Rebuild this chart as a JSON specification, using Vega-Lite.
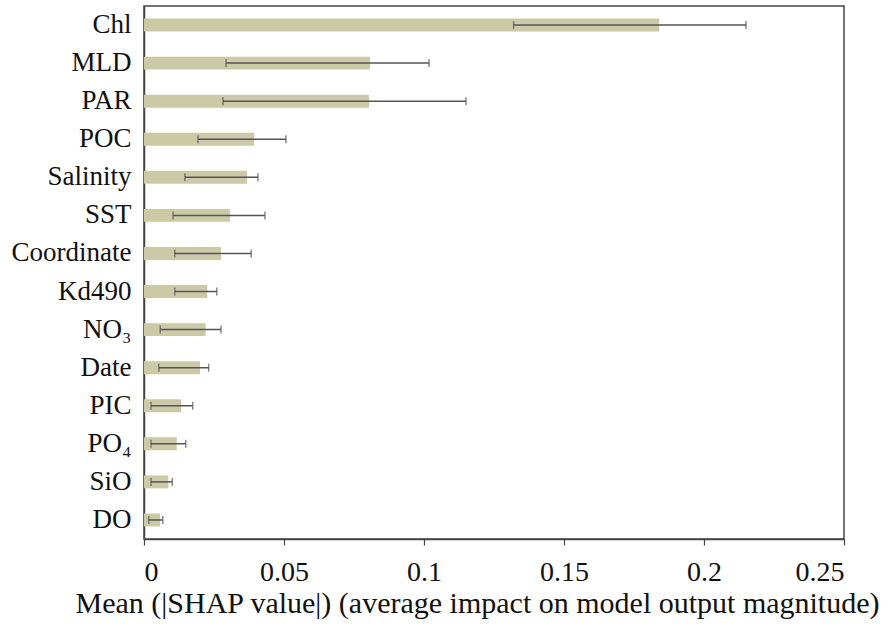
{
  "$schema": "https://vega.github.io/schema/vega-lite/v6.json",
  "width": 700,
  "height": 533,
  "autosize": "none",
  "padding": {"left": 144, "top": 6, "right": 48, "bottom": 87},
  "background": "white",
  "config": {
    "view": {"stroke": "#444", "strokeWidth": 1.5},
    "font": "Liberation Serif",
    "axis": {"labelFont": "Liberation Serif", "titleFont": "Liberation Serif", "domainColor": "#444", "domainWidth": 1.5, "tickColor": "#444", "tickWidth": 1.2, "labelColor": "#111", "titleColor": "#111", "grid": false}
  },
  "data": {
    "values": [
      {"feature": "Chl", "mean": 0.184, "lo": 0.132, "hi": 0.215},
      {"feature": "MLD", "mean": 0.0807, "lo": 0.0293, "hi": 0.1018},
      {"feature": "PAR", "mean": 0.0804, "lo": 0.0282, "hi": 0.115},
      {"feature": "POC", "mean": 0.0393, "lo": 0.0193, "hi": 0.0507},
      {"feature": "Salinity", "mean": 0.0368, "lo": 0.0146, "hi": 0.0407},
      {"feature": "SST", "mean": 0.0307, "lo": 0.0104, "hi": 0.0432},
      {"feature": "Coordinate", "mean": 0.0275, "lo": 0.011, "hi": 0.0383},
      {"feature": "Kd490", "mean": 0.0226, "lo": 0.011, "hi": 0.026},
      {"feature": "NO₃", "mean": 0.022, "lo": 0.0058, "hi": 0.0275},
      {"feature": "Date", "mean": 0.02, "lo": 0.0053, "hi": 0.0231},
      {"feature": "PIC", "mean": 0.0133, "lo": 0.0025, "hi": 0.0174},
      {"feature": "PO₄", "mean": 0.0117, "lo": 0.0025, "hi": 0.0149},
      {"feature": "SiO", "mean": 0.0087, "lo": 0.0025, "hi": 0.0101},
      {"feature": "DO", "mean": 0.0057, "lo": 0.0017, "hi": 0.0067}
    ]
  },
  "encoding": {
    "y": {
      "field": "feature", "type": "nominal", "sort": null,
      "scale": {"paddingInner": 0.66, "paddingOuter": 0.33},
      "axis": {"title": null, "ticks": false, "labelFontSize": 27, "labelPadding": 13, "labelColor": "#111"}
    }
  },
  "layer": [
    {
      "mark": {"type": "bar", "color": "#cbc9a6"},
      "encoding": {
        "x": {
          "field": "mean", "type": "quantitative",
          "scale": {"domain": [0, 0.25], "nice": false},
          "axis": {"values": [0, 0.05, 0.1, 0.15, 0.2, 0.25], "format": "~g", "labelFontSize": 28, "labelPadding": 13, "tickSize": 6, "title": "Mean (|SHAP value|) (average impact on model output magnitude)", "titleFontSize": 30, "titleFontWeight": "normal", "titlePadding": 2, "titleAnchor": "middle", "titleX": 333}
        }
      }
    },
    {
      "mark": {"type": "rule", "color": "#555", "strokeWidth": 1.5},
      "encoding": {
        "x": {"field": "lo", "type": "quantitative"},
        "x2": {"field": "hi"}
      }
    },
    {
      "mark": {"type": "tick", "color": "#555", "thickness": 1.5, "size": 8},
      "encoding": {"x": {"field": "lo", "type": "quantitative"}}
    },
    {
      "mark": {"type": "tick", "color": "#555", "thickness": 1.5, "size": 8},
      "encoding": {"x": {"field": "hi", "type": "quantitative"}}
    }
  ]
}
